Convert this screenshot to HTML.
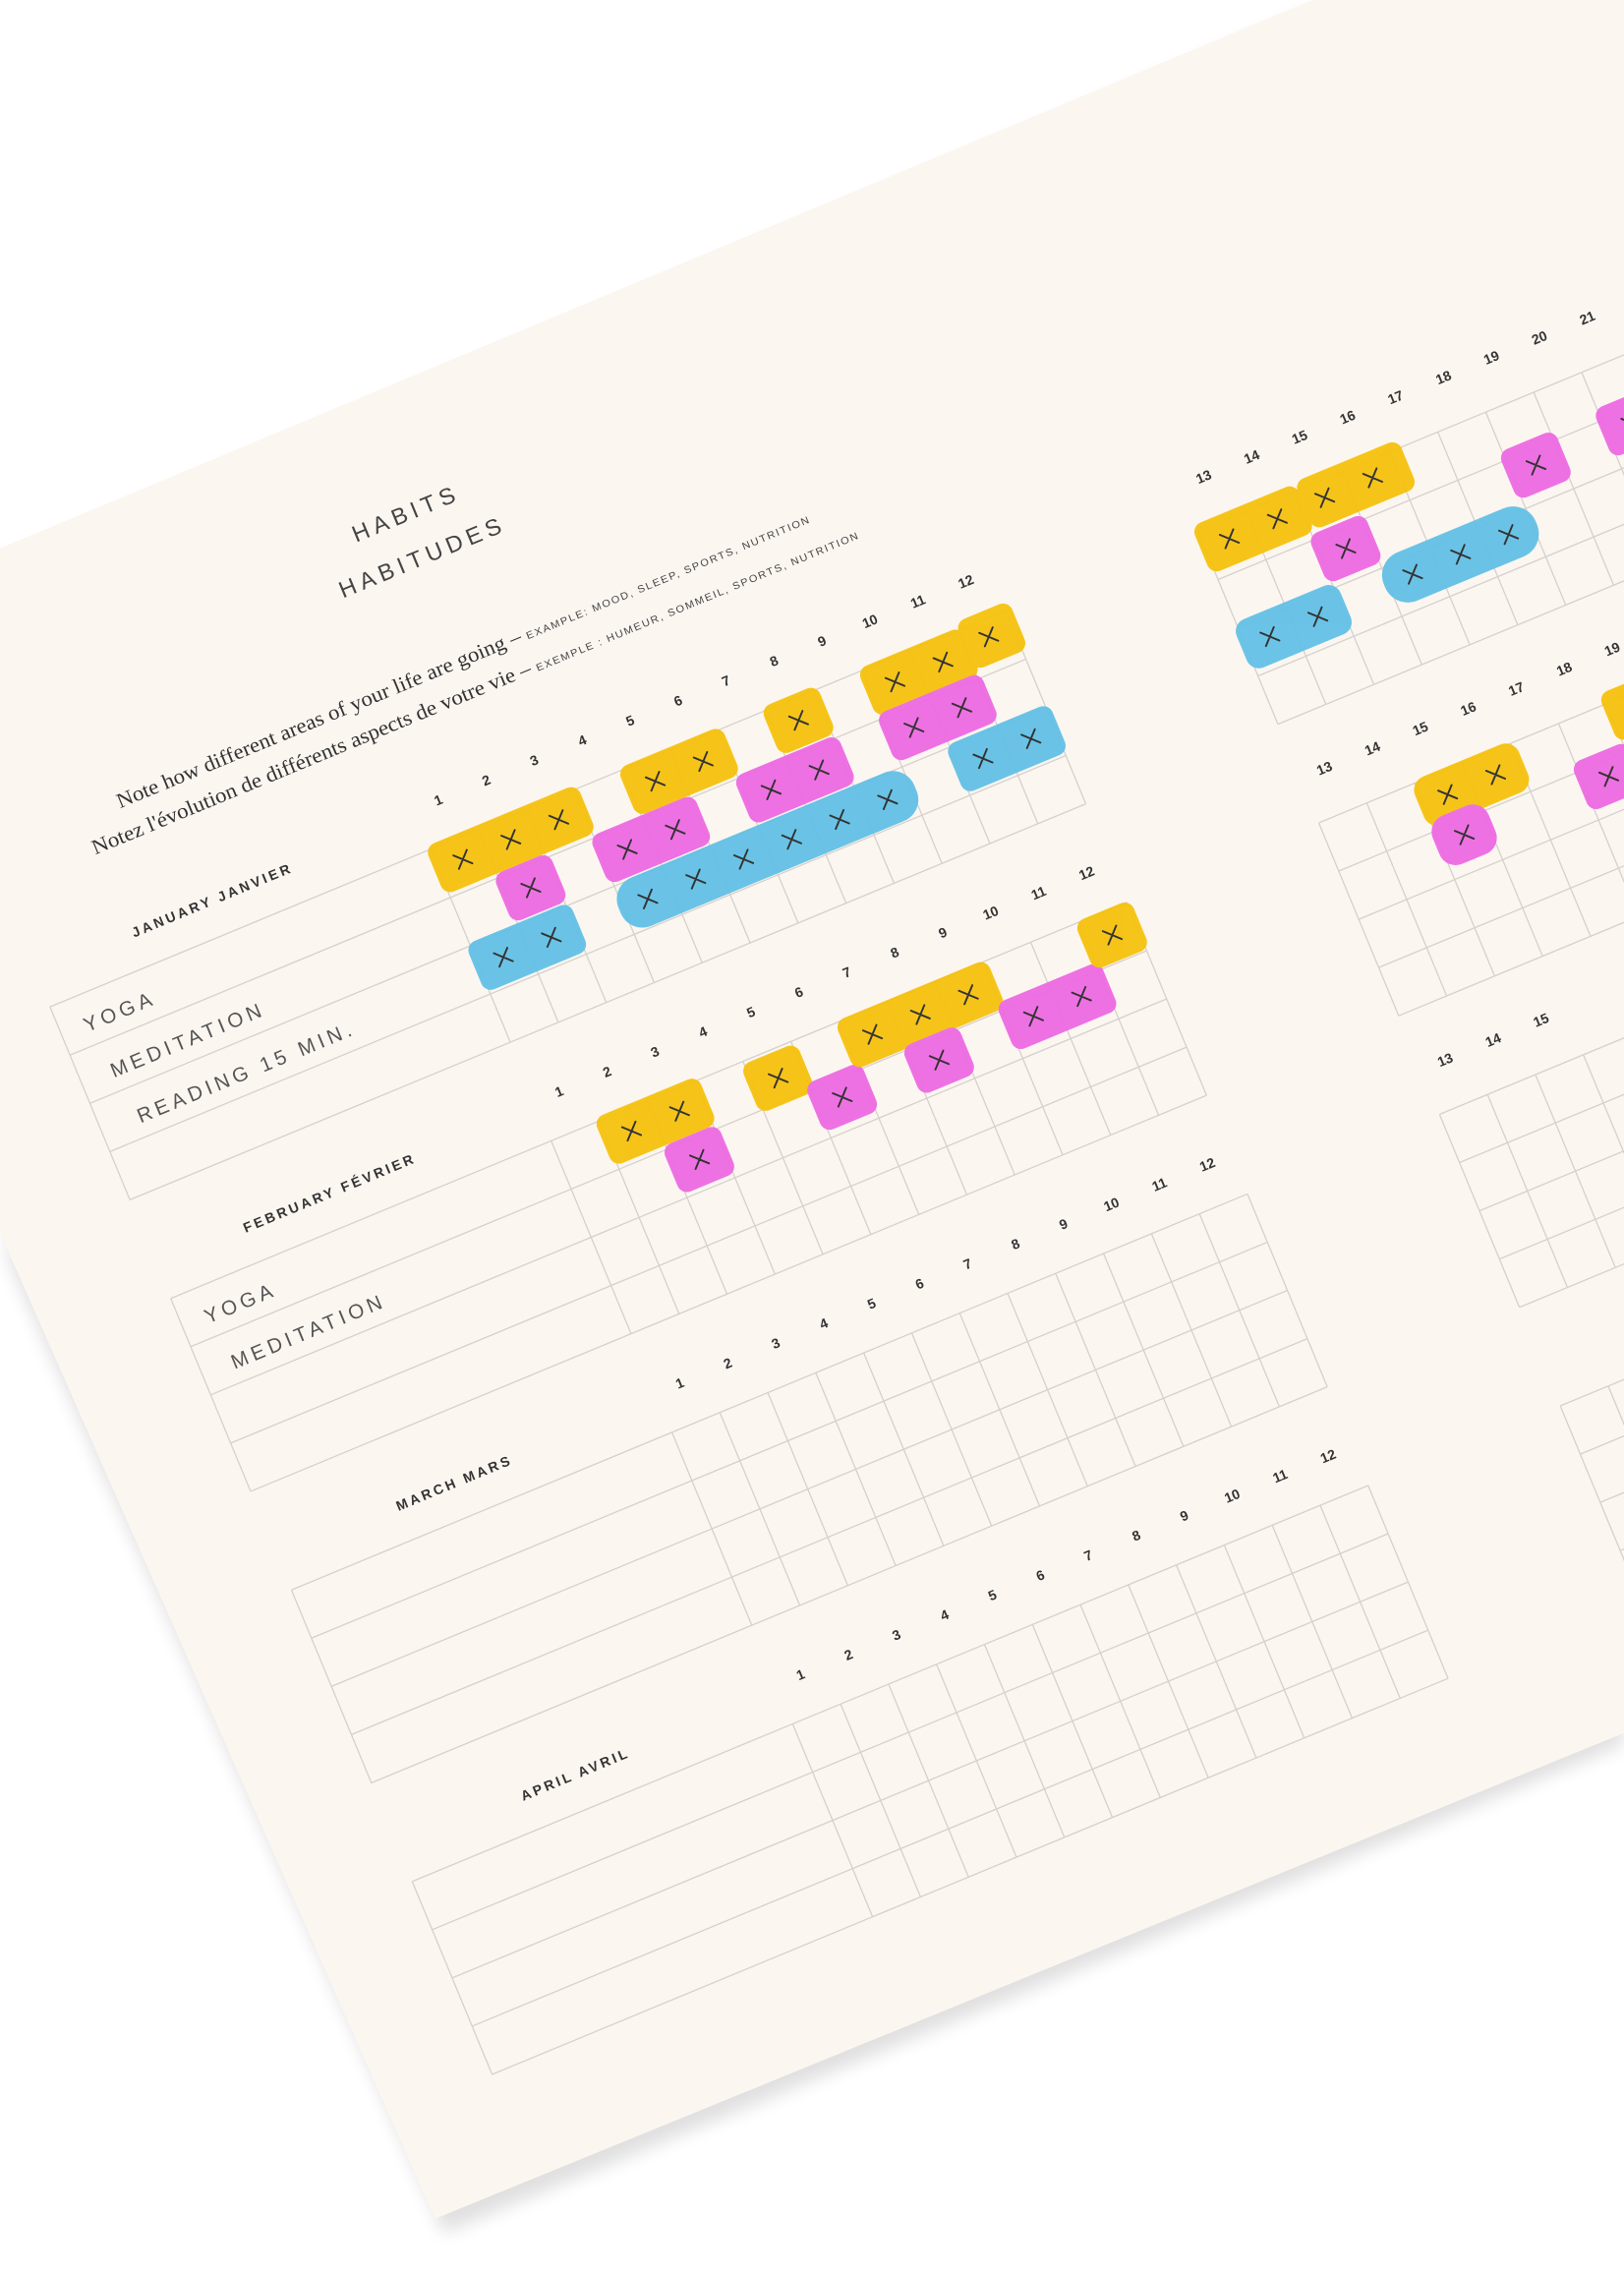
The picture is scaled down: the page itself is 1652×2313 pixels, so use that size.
<!DOCTYPE html>
<html><head><meta charset="utf-8"><style>
html,body{margin:0;padding:0;background:#fff;}
svg{display:block}
.n{font-family:"Liberation Sans",sans-serif;font-weight:bold;font-size:9.5px;fill:#333;text-anchor:middle}
.m{font-family:"Liberation Sans",sans-serif;font-weight:bold;font-size:9.5px;fill:#333;letter-spacing:2px}
.h{font-family:"Liberation Sans",sans-serif;font-size:16px;fill:#444;letter-spacing:3.5px;text-anchor:middle}
.d{font-family:"Liberation Serif",serif;font-size:14.5px;fill:#333}
.s{font-family:"Liberation Sans",sans-serif;font-size:7px;letter-spacing:1px;fill:#444}
.w{font-family:"Liberation Sans",sans-serif;font-size:14px;fill:#555;letter-spacing:3px}
.x{stroke:#333;stroke-width:1.3;fill:none;stroke-linecap:round}
</style></head><body>
<svg width="1652" height="2313" viewBox="0 0 1120 1568" xmlns="http://www.w3.org/2000/svg">
<defs>
<filter id="sh" x="-10%" y="-10%" width="120%" height="120%"><feGaussianBlur stdDeviation="6"/></filter>
<g id="grid">
<path d="M-302 30H411.6M-302 66H411.6M-302 102H411.6M-302 138H411.6M-302 174H411.6M-302 30V174M-18 30V174M17.8 30V174M53.6 30V174M89.4 30V174M125.2 30V174M161 30V174M196.8 30V174M232.6 30V174M268.4 30V174M304.2 30V174M340 30V174M375.8 30V174M411.6 30V174M555 30H1300M555 66H1300M555 102H1300M555 138H1300M555 174H1300M555 30V174M590.8 30V174M626.6 30V174M662.4 30V174M698.2 30V174M734 30V174M769.8 30V174M805.6 30V174M841.4 30V174M877.2 30V174M913 30V174M948.8 30V174M984.6 30V174M1020.4 30V174M1056.2 30V174M1092 30V174" stroke="#d6d1cc" stroke-width="0.9" fill="none"/>
</g>
</defs>
<polygon points="4,392 905,8 1120,8 1120,1203 306,1540 6,870" fill="#000" opacity="0.12" filter="url(#sh)"/>
<polygon points="0,378 905,0 1120,0 1120,1195 300,1530 0,850" fill="#fcf6f1"/>
<g transform="translate(302,551) rotate(-22.5)">
<text class="h" x="55" y="-185">HABITS</text>
<text class="h" x="54" y="-153">HABITUDES</text>
<text class="d" x="-205" y="-78" textLength="516" lengthAdjust="spacingAndGlyphs">Note how different areas of your life are going – <tspan class="s">EXAMPLE: MOOD, SLEEP, SPORTS, NUTRITION</tspan></text>
<text class="d" x="-233" y="-55" textLength="571" lengthAdjust="spacingAndGlyphs">Notez l'évolution de différents aspects de votre vie – <tspan class="s">EXEMPLE : HUMEUR, SOMMEIL, SPORTS, NUTRITION</tspan></text>

<use href="#grid"/>
<use href="#grid" transform="translate(0,217.6)"/>
<use href="#grid" transform="translate(0,435.2)"/>
<use href="#grid" transform="translate(0,652.8)"/>

<g transform="translate(0,0)">
<text class="m" x="-230" y="8">JANUARY  JANVIER</text>
<text class="n" x="0" y="4">1</text><text class="n" x="35.8" y="4">2</text><text class="n" x="71.6" y="4">3</text><text class="n" x="107.4" y="4">4</text><text class="n" x="143.2" y="4">5</text><text class="n" x="179" y="4">6</text><text class="n" x="214.8" y="4">7</text><text class="n" x="250.6" y="4">8</text><text class="n" x="286.4" y="4">9</text><text class="n" x="322.2" y="4">10</text><text class="n" x="358" y="4">11</text><text class="n" x="393.8" y="4">12</text>
<text class="n" x="573" y="0">13</text><text class="n" x="608.8" y="0">14</text><text class="n" x="644.6" y="0">15</text><text class="n" x="680.4" y="0">16</text><text class="n" x="716.2" y="0">17</text><text class="n" x="752" y="0">18</text><text class="n" x="787.8" y="0">19</text><text class="n" x="823.6" y="0">20</text><text class="n" x="859.4" y="0">21</text><text class="n" x="895.2" y="0">22</text>
<text class="w" x="-285" y="56">YOGA</text>
<text class="w" x="-280" y="92">MEDITATION</text>
<text class="w" x="-275" y="128">READING 15 MIN.</text>
</g>
<g transform="translate(0,217.6)">
<text class="m" x="-237" y="8">FEBRUARY  FÉVRIER</text>
<text class="n" x="0" y="4">1</text><text class="n" x="35.8" y="4">2</text><text class="n" x="71.6" y="4">3</text><text class="n" x="107.4" y="4">4</text><text class="n" x="143.2" y="4">5</text><text class="n" x="179" y="4">6</text><text class="n" x="214.8" y="4">7</text><text class="n" x="250.6" y="4">8</text><text class="n" x="286.4" y="4">9</text><text class="n" x="322.2" y="4">10</text><text class="n" x="358" y="4">11</text><text class="n" x="393.8" y="4">12</text>
<text class="n" x="573" y="0">13</text><text class="n" x="608.8" y="0">14</text><text class="n" x="644.6" y="0">15</text><text class="n" x="680.4" y="0">16</text><text class="n" x="716.2" y="0">17</text><text class="n" x="752" y="0">18</text><text class="n" x="787.8" y="0">19</text><text class="n" x="823.6" y="0">20</text>
<text class="w" x="-285" y="56">YOGA</text>
<text class="w" x="-280" y="92">MEDITATION</text>
</g>
<g transform="translate(0,435.2)">
<text class="m" x="-213" y="8">MARCH  MARS</text>
<text class="n" x="0" y="4">1</text><text class="n" x="35.8" y="4">2</text><text class="n" x="71.6" y="4">3</text><text class="n" x="107.4" y="4">4</text><text class="n" x="143.2" y="4">5</text><text class="n" x="179" y="4">6</text><text class="n" x="214.8" y="4">7</text><text class="n" x="250.6" y="4">8</text><text class="n" x="286.4" y="4">9</text><text class="n" x="322.2" y="4">10</text><text class="n" x="358" y="4">11</text><text class="n" x="393.8" y="4">12</text>
<text class="n" x="573" y="0">13</text><text class="n" x="608.8" y="0">14</text><text class="n" x="644.6" y="0">15</text>
</g>
<g transform="translate(0,652.8)">
<text class="m" x="-210" y="8">APRIL  AVRIL</text>
<text class="n" x="0" y="4">1</text><text class="n" x="35.8" y="4">2</text><text class="n" x="71.6" y="4">3</text><text class="n" x="107.4" y="4">4</text><text class="n" x="143.2" y="4">5</text><text class="n" x="179" y="4">6</text><text class="n" x="214.8" y="4">7</text><text class="n" x="250.6" y="4">8</text><text class="n" x="286.4" y="4">9</text><text class="n" x="322.2" y="4">10</text><text class="n" x="358" y="4">11</text><text class="n" x="393.8" y="4">12</text>
</g>

<!-- January blobs -->
<g opacity="0.95">
<rect x="-21" y="27" width="113.4" height="36" rx="7" fill="#f6c20e"/>
<rect x="122.2" y="28" width="77.6" height="36" rx="7" fill="#f6c20e"/>
<rect x="229.6" y="27" width="41.8" height="36" rx="7" fill="#f6c20e"/>
<rect x="301.2" y="28" width="77.6" height="36" rx="7" fill="#f6c20e"/>
<rect x="376" y="24" width="40" height="36" rx="7" fill="#f6c20e"/>
<rect x="14.8" y="63" width="41.8" height="36" rx="7" fill="#ee6ae3"/>
<rect x="86.4" y="64" width="77.6" height="36" rx="7" fill="#ee6ae3"/>
<rect x="193.8" y="64" width="77.6" height="36" rx="7" fill="#ee6ae3"/>
<rect x="301.2" y="62" width="77.6" height="36" rx="7" fill="#ee6ae3"/>
<rect x="-21" y="100" width="77.6" height="36" rx="7" fill="#63c1e6"/>
<rect x="86.4" y="101" width="220.8" height="36" rx="16" fill="#63c1e6"/>
<rect x="337" y="100" width="77.6" height="36" rx="7" fill="#63c1e6"/>
<rect x="552" y="25" width="77.6" height="36" rx="7" fill="#f6c20e"/>
<rect x="629" y="24" width="77.6" height="36" rx="7" fill="#f6c20e"/>
<rect x="623.6" y="62" width="41.8" height="36" rx="7" fill="#ee6ae3"/>
<rect x="766.8" y="59" width="41.8" height="36" rx="7" fill="#ee6ae3"/>
<rect x="838.4" y="57" width="41.8" height="36" rx="7" fill="#ee6ae3"/>
<rect x="659.4" y="96" width="113.4" height="36" rx="17" fill="#63c1e6"/>
<rect x="552" y="98" width="77.6" height="36" rx="9" fill="#63c1e6"/>
<!-- February blobs -->
<rect x="14.8" y="244.6" width="77.6" height="36" rx="7" fill="#f6c20e"/>
<rect x="50.6" y="280.6" width="41.8" height="36" rx="7" fill="#ee6ae3"/>
<rect x="122.2" y="249.6" width="41.8" height="36" rx="7" fill="#f6c20e"/>
<rect x="158" y="278.6" width="41.8" height="36" rx="7" fill="#ee6ae3"/>
<rect x="193.8" y="246.6" width="113.4" height="36" rx="7" fill="#f6c20e"/>
<rect x="229.6" y="280.6" width="41.8" height="36" rx="7" fill="#ee6ae3"/>
<rect x="301.2" y="277.6" width="77.6" height="36" rx="7" fill="#ee6ae3"/>
<rect x="372.8" y="246.6" width="41.8" height="36" rx="7" fill="#f6c20e"/>
<rect x="623.6" y="245.6" width="77.6" height="36" rx="10" fill="#f6c20e"/>
<rect x="623.6" y="275.6" width="41.8" height="36" rx="12" fill="#ee6ae3"/>
<rect x="731" y="276.6" width="41.8" height="36" rx="7" fill="#ee6ae3"/>
<rect x="766.8" y="239.6" width="41.8" height="36" rx="7" fill="#f6c20e"/>
</g>
<path class="x" d="M-5 40l10 10M5 40l-10 10M30.8 40l10 10M40.8 40l-10 10M66.6 40l10 10M76.6 40l-10 10M138.2 41l10 10M148.2 41l-10 10M174 41l10 10M184 41l-10 10M245.6 40l10 10M255.6 40l-10 10M317.2 41l10 10M327.2 41l-10 10M353 41l10 10M363 41l-10 10M388.8 37l10 10M398.8 37l-10 10
M30.8 76l10 10M40.8 76l-10 10M102.4 77l10 10M112.4 77l-10 10M138.2 77l10 10M148.2 77l-10 10M209.8 77l10 10M219.8 77l-10 10M245.6 77l10 10M255.6 77l-10 10M317.2 75l10 10M327.2 75l-10 10M353 75l10 10M363 75l-10 10
M-5 113l10 10M5 113l-10 10M30.8 113l10 10M40.8 113l-10 10M102.4 114l10 10M112.4 114l-10 10M138.2 114l10 10M148.2 114l-10 10M174 114l10 10M184 114l-10 10M209.8 114l10 10M219.8 114l-10 10M245.6 114l10 10M255.6 114l-10 10M281.4 114l10 10M291.4 114l-10 10M353 113l10 10M363 113l-10 10M388.8 113l10 10M398.8 113l-10 10
M568 38l10 10M578 38l-10 10M603.8 38l10 10M613.8 38l-10 10M639.6 37l10 10M649.6 37l-10 10M675.4 37l10 10M685.4 37l-10 10M639.6 75l10 10M649.6 75l-10 10M782.8 72l10 10M792.8 72l-10 10M854.4 70l10 10M864.4 70l-10 10M675.4 109l10 10M685.4 109l-10 10M711.2 109l10 10M721.2 109l-10 10M747 109l10 10M757 109l-10 10M568 111l10 10M578 111l-10 10M603.8 111l10 10M613.8 111l-10 10
M30.8 257.6l10 10M40.8 257.6l-10 10M66.6 257.6l10 10M76.6 257.6l-10 10M66.6 293.6l10 10M76.6 293.6l-10 10M138.2 262.6l10 10M148.2 262.6l-10 10M174 291.6l10 10M184 291.6l-10 10M209.8 259.6l10 10M219.8 259.6l-10 10M245.6 259.6l10 10M255.6 259.6l-10 10M281.4 259.6l10 10M291.4 259.6l-10 10M245.6 293.6l10 10M255.6 293.6l-10 10M317.2 290.6l10 10M327.2 290.6l-10 10M353 290.6l10 10M363 290.6l-10 10M388.8 259.6l10 10M398.8 259.6l-10 10
M639.6 258.6l10 10M649.6 258.6l-10 10M675.4 258.6l10 10M685.4 258.6l-10 10M639.6 288.6l10 10M649.6 288.6l-10 10M747 289.6l10 10M757 289.6l-10 10"/>
</g>
</svg>
</body></html>
